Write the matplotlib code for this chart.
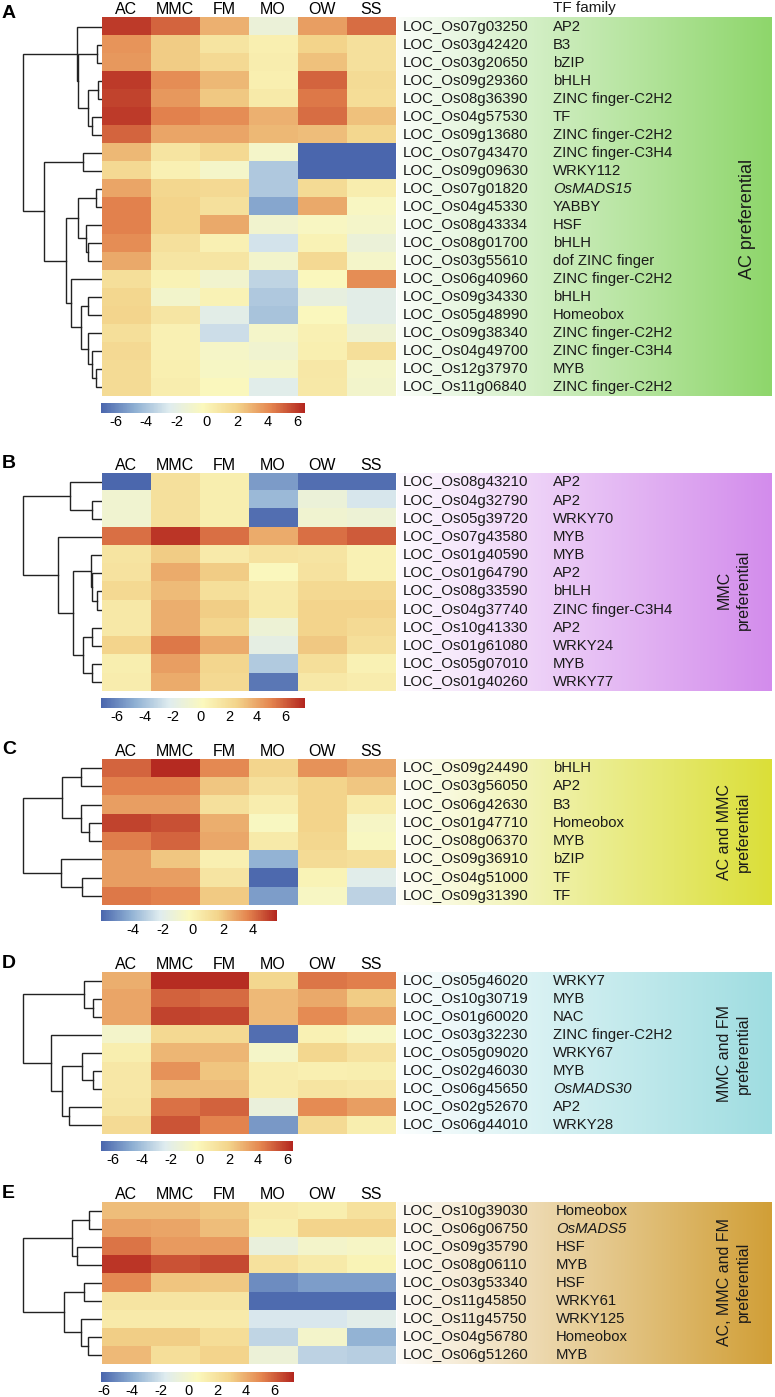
"""TF heatmaps with row dendrograms, five panels (A-E)"""

import numpy as np
import matplotlib
matplotlib.use('Agg')
import matplotlib.pyplot as plt
from matplotlib.colors import LinearSegmentedColormap, Normalize, to_rgb
from matplotlib.cm import ScalarMappable

plt.rcParams['font.family'] = ['Liberation Sans', 'DejaVu Sans']
plt.rcParams['axes.unicode_minus'] = False

W, H = 775, 1397
TISSUES = ['AC', 'MMC', 'FM', 'MO', 'OW', 'SS']

# ---------------- panel A: AC preferential ----------------
a_genes = ['LOC_Os07g03250', 'LOC_Os03g42420', 'LOC_Os03g20650', 'LOC_Os09g29360',
           'LOC_Os08g36390', 'LOC_Os04g57530', 'LOC_Os09g13680', 'LOC_Os07g43470',
           'LOC_Os09g09630', 'LOC_Os07g01820', 'LOC_Os04g45330', 'LOC_Os08g43334',
           'LOC_Os08g01700', 'LOC_Os03g55610', 'LOC_Os06g40960', 'LOC_Os09g34330',
           'LOC_Os05g48990', 'LOC_Os09g38340', 'LOC_Os04g49700', 'LOC_Os12g37970',
           'LOC_Os11g06840']
a_families = ['AP2', 'B3', 'bZIP', 'bHLH', 'ZINC finger-C2H2', 'TF', 'ZINC finger-C2H2',
              'ZINC finger-C3H4', 'WRKY112', 'OsMADS15', 'YABBY', 'HSF', 'bHLH',
              'dof ZINC finger', 'ZINC finger-C2H2', 'bHLH', 'Homeobox', 'ZINC finger-C2H2',
              'ZINC finger-C3H4', 'MYB', 'ZINC finger-C2H2']
a_values = [
    [6.0, 5.0, 3.0, -1.5, 3.5, 4.8],
    [3.8, 2.2, 1.0, 0.3, 2.0, 1.2],
    [3.7, 2.2, 1.6, 0.4, 2.5, 1.2],
    [6.0, 4.0, 2.8, 0.3, 5.0, 1.5],
    [5.8, 3.7, 2.3, 0.6, 4.5, 1.4],
    [6.0, 4.3, 4.0, 3.0, 4.8, 2.5],
    [5.0, 3.3, 3.3, 2.8, 2.6, 1.8],
    [2.8, 1.0, 1.7, -0.8, -7.0, -7.0],
    [1.6, 0.2, -0.8, -3.8, -7.0, -7.0],
    [3.3, 1.8, 1.6, -3.8, 1.5, 0.4],
    [4.3, 2.0, 1.2, -5.0, 3.2, -0.5],
    [4.3, 2.0, 3.2, -1.0, -0.5, -0.8],
    [4.0, 1.2, 0.2, -2.8, 0.1, -1.5],
    [3.2, 0.9, 0.9, -0.9, 1.6, -0.8],
    [1.3, 0.1, -1.0, -3.4, -0.3, 4.0],
    [1.8, -0.9, 0.1, -3.8, -1.8, -2.2],
    [1.9, 0.9, -2.2, -4.0, -0.3, -2.2],
    [1.3, 0.2, -3.0, -0.8, 0.2, -1.2],
    [1.6, 0.2, -0.7, -1.1, 0.3, 1.3],
    [1.5, 0.3, -0.6, -0.8, 0.8, -0.8],
    [1.5, 0.4, -0.3, -2.3, 0.7, -0.9],
]
a_tree = ((0, ((1, 2, 4.3), ((3, 4, 3.3), (5, 6, 10), 14), 23.3), 25),
          ((7, 8, 19),
           (((9, 10, 6), (11, (12, 13, 13.7), 16), 23.7),
            (14, ((15, 16, 13.7), (17, (18, (19, 20, 6), 10), 14), 21), 30.3), 36), 57.7), 79)
a_range = (-7.0, 6.5)

# ---------------- panel B: MMC preferential ----------------
b_genes = ['LOC_Os08g43210', 'LOC_Os04g32790', 'LOC_Os05g39720', 'LOC_Os07g43580',
           'LOC_Os01g40590', 'LOC_Os01g64790', 'LOC_Os08g33590', 'LOC_Os04g37740',
           'LOC_Os10g41330', 'LOC_Os01g61080', 'LOC_Os05g07010', 'LOC_Os01g40260']
b_families = ['AP2', 'AP2', 'WRKY70', 'MYB', 'MYB', 'AP2', 'bHLH', 'ZINC finger-C3H4',
              'AP2', 'WRKY24', 'MYB', 'WRKY77']
b_values = [
    [-7.0, 1.7, 0.8, -5.3, -6.8, -6.8],
    [-0.8, 1.7, 0.8, -4.3, -1.2, -2.5],
    [-0.8, 1.7, 0.8, -6.8, -0.8, -1.0],
    [5.5, 7.0, 5.5, 3.8, 5.5, 6.0],
    [1.5, 2.8, 1.0, 1.6, 1.4, 0.6],
    [1.6, 3.8, 2.8, 0.1, 1.6, 0.6],
    [2.2, 3.3, 1.8, 1.0, 2.2, 2.2],
    [1.2, 3.7, 2.7, 1.1, 2.5, 2.5],
    [1.2, 3.7, 2.4, -1.0, 2.5, 2.1],
    [2.5, 5.3, 3.8, -1.7, 2.9, 1.8],
    [0.8, 4.2, 2.4, -3.6, 1.8, 0.6],
    [0.9, 3.8, 2.2, -6.5, 1.2, 0.9],
]
b_tree = ((0, (1, 2, 9.3), 31.7),
          (3, ((4, (5, (6, 7, 4.3), 9.3), 11), ((8, 9, 9.3), (10, 11, 9.3), 18.7), 28.7), 43.7), 78.7)
b_range = (-7.1, 7.4)

# ---------------- panel C: AC and MMC preferential ----------------
c_genes = ['LOC_Os09g24490', 'LOC_Os03g56050', 'LOC_Os06g42630', 'LOC_Os01g47710',
           'LOC_Os08g06370', 'LOC_Os09g36910', 'LOC_Os04g51000', 'LOC_Os09g31390']
c_families = ['bHLH', 'AP2', 'B3', 'Homeobox', 'MYB', 'bZIP', 'TF', 'TF']
c_values = [
    [4.3, 5.5, 3.5, 1.6, 3.3, 2.8],
    [3.7, 3.7, 2.0, 1.0, 1.7, 2.0],
    [3.0, 3.0, 1.0, 0.3, 1.7, 0.4],
    [5.0, 4.7, 2.6, -0.4, 1.7, -0.6],
    [3.8, 4.3, 2.8, 0.5, 1.5, -0.4],
    [3.0, 2.0, 0.2, -4.0, 1.3, 1.1],
    [3.0, 3.0, 0.8, -6.0, 0.0, -2.0],
    [3.9, 3.7, 1.9, -4.6, -0.5, -3.0],
]
c_tree = (((0, 1, 21), (2, (3, 4, 12.7), 21), 39.3), (5, (6, 7, 19.3), 41), 78.7)
c_range = (-6.1, 5.6)

# ---------------- panel D: MMC and FM preferential ----------------
d_genes = ['LOC_Os05g46020', 'LOC_Os10g30719', 'LOC_Os01g60020', 'LOC_Os03g32230',
           'LOC_Os05g09020', 'LOC_Os02g46030', 'LOC_Os06g45650', 'LOC_Os02g52670',
           'LOC_Os06g44010']
d_families = ['WRKY7', 'MYB', 'NAC', 'ZINC finger-C2H2', 'WRKY67', 'MYB', 'OsMADS30',
              'AP2', 'WRKY28']
d_values = [
    [3.0, 6.2, 6.2, 1.8, 4.5, 4.3],
    [3.3, 5.0, 4.8, 2.7, 3.2, 2.2],
    [3.3, 5.7, 5.6, 2.7, 4.0, 3.3],
    [-0.8, 1.7, 1.7, -6.5, 0.2, -0.5],
    [0.4, 2.8, 2.8, -0.7, 1.8, 1.1],
    [0.8, 3.8, 2.4, 0.5, 0.3, 0.4],
    [0.8, 2.6, 2.6, 0.5, 1.0, 0.8],
    [0.9, 4.6, 5.0, -1.5, 4.0, 3.5],
    [1.6, 5.3, 4.2, -5.3, 1.6, 0.4],
]
d_tree = ((0, (1, 2, 8.7), 17.7), (3, ((4, (5, 6, 8.7), 19.3), (7, 8, 32.7), 40), 51), 78.7)
d_range = (-6.8, 6.4)

# ---------------- panel E: AC, MMC and FM preferential ----------------
e_genes = ['LOC_Os10g39030', 'LOC_Os06g06750', 'LOC_Os09g35790', 'LOC_Os08g06110',
           'LOC_Os03g53340', 'LOC_Os11g45850', 'LOC_Os11g45750', 'LOC_Os04g56780',
           'LOC_Os06g51260']
e_families = ['Homeobox', 'OsMADS5', 'HSF', 'MYB', 'HSF', 'WRKY61', 'WRKY125',
              'Homeobox', 'MYB']
e_values = [
    [3.5, 3.5, 3.2, 1.4, 1.2, 2.0],
    [4.3, 4.2, 3.5, 1.2, 2.8, 2.8],
    [5.5, 4.5, 4.5, -0.8, 0.0, 0.2],
    [7.0, 6.3, 6.5, 2.0, 1.5, 0.9],
    [5.0, 3.3, 3.2, -5.0, -4.5, -4.5],
    [1.8, 1.8, 1.8, -6.0, -6.0, -6.0],
    [1.4, 1.4, 1.4, -1.8, -1.8, -1.4],
    [3.0, 3.0, 2.3, -2.5, 0.0, -3.8],
    [3.6, 2.2, 2.8, -0.6, -2.6, -2.8],
]
e_tree = (((0, 1, 12.7), (2, 3, 25), 29.3), ((4, 5, 17.7), (6, (7, 8, 13.7), 21), 37.7), 78.7)
e_range = (-6.2, 7.4)

CMAP = LinearSegmentedColormap.from_list(
    'rdylbu', ['#4a66ad', '#8fb0d3', '#dfecef', '#fbf8bd', '#f3d48b', '#e4854f', '#b3261f'])


def px_axes(fig, x0, y0, x1, y1):
    """axes from pixel box (top-left origin)"""
    return fig.add_axes([x0 / W, 1 - y1 / H, (x1 - x0) / W, (y1 - y0) / H])


def draw_tree(ax, node):
    if isinstance(node, int):
        return node, 0.0
    left, right, h = node
    y1, h1 = draw_tree(ax, left)
    y2, h2 = draw_tree(ax, right)
    ax.plot([h1, h, h, h2], [y1, y1, y2, y2], color='#222222', lw=1.0,
            solid_joinstyle='miter')
    return (y1 + y2) / 2, h


def draw_panel(fig, letter, letter_y, genes, families, values, tree, vrange, ticks,
               top, bottom, cb_box, color, side_label, side_xy, side_size,
               fam_x=553):
    n = len(genes)
    vals = np.array(values)
    norm = Normalize(vmin=vrange[0], vmax=vrange[1])

    # heatmap
    ax = px_axes(fig, 101.7, top, 395, bottom)
    ax.imshow(vals, cmap=CMAP, norm=norm, aspect='auto', interpolation='nearest')
    ax.set_xticks(range(len(TISSUES)))
    ax.set_xticklabels(TISSUES)
    ax.xaxis.tick_top()
    ax.set_yticks([])
    ax.tick_params(length=0, labelsize=11.5, pad=0)
    for s in ax.spines.values():
        s.set_visible(False)

    # dendrogram
    dax = px_axes(fig, 20, top, 101.7, bottom)
    draw_tree(dax, tree)
    dax.set_xlim(81.7, 0)
    dax.set_ylim(n - 0.5, -0.5)
    dax.axis('off')

    # colour key
    cax = px_axes(fig, *cb_box)
    sm = ScalarMappable(norm=norm, cmap=CMAP)
    cb = fig.colorbar(sm, cax=cax, orientation='horizontal', ticks=ticks)
    cb.outline.set_visible(False)
    cax.tick_params(length=0, labelsize=10.5, pad=1.5)

    # gradient label box
    bax = px_axes(fig, 397, top, 772, bottom)
    t = np.linspace(0.04, 1.0, 256)[None, :, None]
    rgb = (1 - t) * np.ones(3) + t * np.array(to_rgb(color))
    bax.imshow(rgb, extent=(397, 772, n - 0.5, -0.5), aspect='auto')
    bax.set_xlim(397, 772)
    bax.set_ylim(n - 0.5, -0.5)
    bax.axis('off')
    for i, (g, f) in enumerate(zip(genes, families)):
        bax.text(403, i, g, ha='left', va='center', fontsize=10.8, color='#1a1a1a')
        bax.text(fam_x, i, f, ha='left', va='center', fontsize=10.7, color='#1a1a1a',
                 style='italic' if f.startswith('OsMADS') else 'normal')

    fig.text(side_xy[0] / W, 1 - side_xy[1] / H, side_label, rotation=90,
             ha='center', va='center', multialignment='center',
             fontsize=side_size, linespacing=1.3, color='#1a1a1a')

    fig.text(2 / W, 1 - letter_y / H, letter, ha='left', va='center',
             fontsize=14, fontweight='bold')


fig = plt.figure(figsize=(W / 100, H / 100), dpi=100)
fig.patch.set_facecolor('white')

ticks6 = [-6, -4, -2, 0, 2, 4, 6]
draw_panel(fig, 'A', 13.5, a_genes, a_families, a_values, a_tree, a_range, ticks6,
           17.5, 396, (101, 403, 305, 413), '#8ed66b', 'AC preferential', (747, 219), 13)
fig.text(553 / W, 1 - 8 / H, 'TF family', ha='left', va='center', fontsize=11,
         color='#1a1a1a')
draw_panel(fig, 'B', 464, b_genes, b_families, b_values, b_tree, b_range, ticks6,
           473.3, 691.5, (101, 697.7, 305, 708.3), '#d38cec', 'MMC\npreferential', (734, 590), 11.5)
draw_panel(fig, 'C', 749, c_genes, c_families, c_values, c_tree, c_range, [-4, -2, 0, 2, 4],
           759, 905, (101, 910, 277, 921), '#dbdf38', 'AC and MMC\npreferential', (734, 832), 11.5)
draw_panel(fig, 'D', 963.5, d_genes, d_families, d_values, d_tree, d_range, ticks6,
           971.7, 1134, (101, 1140.7, 293, 1150.7), '#9fdde1', 'MMC and FM\npreferential', (734, 1054), 11.5)
draw_panel(fig, 'E', 1194, e_genes, e_families, e_values, e_tree, e_range, ticks6,
           1201.7, 1364, (101, 1371.7, 294, 1382), '#d19f37', 'AC, MMC and FM\npreferential', (734, 1282), 11.5,
           fam_x=556)

fig.savefig('out.png', dpi=100, facecolor='white')
